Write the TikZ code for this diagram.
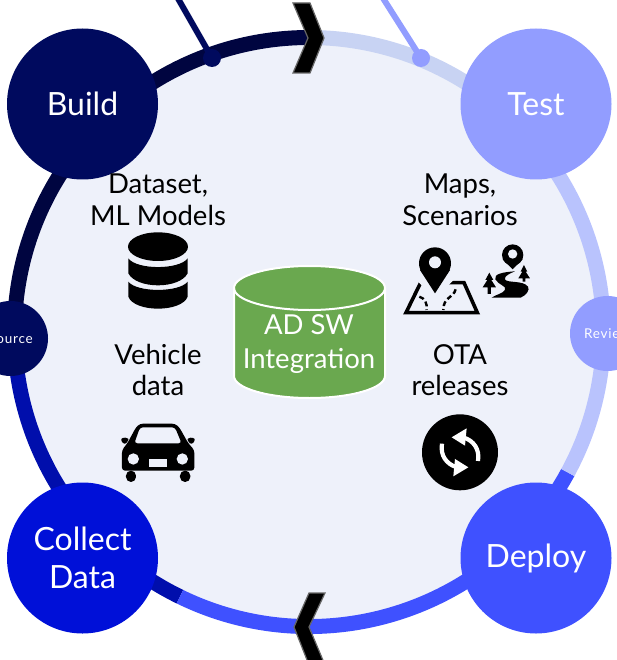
\documentclass[tikz,border=0pt]{standalone}
\usepackage{fontspec}
\setmainfont{Lato}
\usetikzlibrary{calc}
\definecolor{navy}{HTML}{000A5E}
\definecolor{navyring}{HTML}{000540}
\definecolor{bluec}{HTML}{0010D8}
\definecolor{bluering}{HTML}{000EAC}
\definecolor{bright}{HTML}{3F51FF}
\definecolor{peri}{HTML}{929DFF}
\definecolor{periring}{HTML}{B9C3FD}
\definecolor{pale}{HTML}{C8D3F3}
\definecolor{inner}{HTML}{EEF1FA}
\definecolor{cyl}{HTML}{6AA84F}
\tikzset{
  ring/.style={line width=15pt,line cap=butt},
  bigc/.style={circle,minimum size=151pt,inner sep=0pt,text=white,font=\fontsize{32}{38}\selectfont,align=center},
  smallc/.style={circle,minimum size=75pt,inner sep=0pt},
  smalltext/.style={text=white,font=\fontsize{13.5}{16}\selectfont\addfontfeatures{LetterSpace=6}},
  lab/.style={inner sep=0pt,font=\fontsize{27.5}{31.5}\selectfont,align=center,text=black},
  pin/.style={circle,minimum size=18pt,inner sep=0pt},
  chev/.style={fill=black,draw=gray!80!black,line width=1.2pt,line join=miter},
}
\begin{document}
\begin{tikzpicture}[x=1pt,y=-1pt]
\useasboundingbox (0,0) rectangle (617,660);
\clip (0,0) rectangle (617,660);
\coordinate (c) at (309,332);
% disc
\fill[inner] (c) circle[radius=295];
% ring segments
\def\R{294.5}
\draw[ring,navyring] ($(c)+(-90:\R)$) arc[start angle=-90,end angle=-188,radius=\R];
\draw[ring,bluering] ($(c)+(-188:\R)$) arc[start angle=-188,end angle=-244,radius=\R];
\draw[ring,bright] ($(c)+(-244:\R)$) arc[start angle=-244,end angle=-331.5,radius=\R];
\draw[ring,periring] ($(c)+(-331.5:\R)$) arc[start angle=-331.5,end angle=-412,radius=\R];
\draw[ring,pale] ($(c)+(-412:\R)$) arc[start angle=-412,end angle=-450,radius=\R];
% pins and their lines
\coordinate (navyend) at (176,-5);
\coordinate (periend) at (381,-5);
\node[pin,fill=navy] (pinb) at (212,58) {};
\node[pin,fill=peri] (pint) at (421,58) {};
\draw[navy,line width=6pt] (pinb.center) -- (navyend);
\draw[peri,line width=6pt] (pint.center) -- (periend);
% chevrons
\path[chev] (293,3) -- (310,3) -- (324,38) -- (310,73) -- (293,73) -- (308,38) -- cycle;
\path[chev] (309,593) -- (325,593) -- (309,627) -- (325,665) -- (309,665) -- (294,627) -- cycle;
% phase circles
\node[bigc,fill=navy] (build) at (82.5,104) {Build};
\node[bigc,fill=peri] (test) at (536,104) {Test};
\node[bigc,fill=bluec] (collect) at (82.5,558) {Collect\\Data};
\node[bigc,fill=bright] (deploy) at (536,558) {\raisebox{-2pt}{Deploy}};
\node[smallc,fill=navy] (source) at (10.5,338.5) {};
\node[smalltext] (sourcet) at (10.5,338.5) {Source};
\node[smallc,fill=peri] (review) at (607.5,333.5) {};
\node[smalltext] (reviewt) at (607.5,333.5) {Review};
% cylinder
\path[fill=cyl,draw=white,line width=2pt] (234,288) -- (234,376) arc[start angle=180,end angle=0,x radius=75.5,y radius=22] -- (385,288) arc[start angle=0,end angle=-180,x radius=75.5,y radius=22] -- cycle;
\draw[white,line width=2pt] (234,288) arc[start angle=180,end angle=0,x radius=75.5,y radius=22];
\node[lab,text=white,font=\fontsize{27.5}{34}\selectfont] (adsw) at (309,344.5) {AD SW\\Integration};
% labels
\node[lab] (lds) at (158,200) {Dataset,\\ML Models};
\node[lab] (lmaps) at (460,200) {Maps,\\Scenarios};
\node[lab] (lveh) at (158,370) {Vehicle\\data};
\node[lab] (lota) at (460,370) {OTA\\releases};
% database icon
\begin{scope}[shift={(100,170)},x=0.3333pt,y=-0.3333pt]
  \fill (174,230) ellipse[x radius=90,y radius=43];
  \fill (85,265) .. controls (110,300) and (238,300) .. (263,265) -- (263,310) .. controls (238,358) and (110,358) .. (85,310) -- cycle;
  \fill (85,335) .. controls (110,368) and (238,368) .. (263,335) -- (263,380) .. controls (245,428) and (103,428) .. (85,380) -- cycle;
\end{scope}
% car icon
\begin{scope}[shift={(0,280)},x=0.3333pt,y=-0.3333pt]
  \fill[even odd rule,rounded corners=3pt]
    (366,572) -- (366,510) -- (382,490) -- (408,442) -- (420,431) -- (525,431) -- (538,442) -- (565,490) -- (583,510) -- (583,572) -- cycle
    (403,490) -- (420,442) -- (525,442) -- (545,490) -- cycle;
  \fill[inner] (400,537) circle[radius=17] (547,537) circle[radius=17];
  \fill[inner] (448,536) rectangle (500,562);
  \fill[rounded corners=3pt] (360,475) -- (385,472) -- (385,485) -- (372,495) -- cycle;
  \fill[rounded corners=3pt] (588,475) -- (563,472) -- (563,485) -- (576,495) -- cycle;
  \fill[rounded corners=5pt] (378,572) rectangle (408,606);
  \fill[rounded corners=5pt] (540,572) rectangle (571,606);
\end{scope}
% map icon
\begin{scope}[shift={(390,230)},x=0.3333pt,y=-0.3333pt]
  \draw[line width=3.6pt,line join=miter] (48,248) -- (262,248) -- (222,158) -- (92,158) -- cycle;
  \fill[inner] (135,208) -- (70,140) -- (200,140) -- cycle;
  \fill (135,100) circle[radius=48];
  \fill (90,120) -- (135,190) -- (180,120) -- cycle;
  \fill[inner] (135,97) circle[radius=18];
  \draw[line width=2.4pt,dash pattern=on 5pt off 3pt] (88,200) .. controls (105,205) and (112,220) .. (110,240);
  \draw[line width=2.4pt,dash pattern=on 5pt off 3pt] (197,178) .. controls (190,205) and (160,200) .. (160,240);
  % second pin
  \fill (368,75) circle[radius=32];
  \fill (338,88) -- (368,118) -- (398,88) -- cycle;
  \fill[inner] (368,72) circle[radius=14];
  % trees
  \fill (298,128) -- (310,150) -- (304,150) -- (318,172) -- (303,172) -- (303,192) -- (293,192) -- (293,172) -- (278,172) -- (292,150) -- (286,150) -- cycle;
  \fill (402,105) -- (412,125) -- (407,125) -- (420,145) -- (406,145) -- (406,155) -- (398,155) -- (398,145) -- (385,145) -- (397,125) -- (392,125) -- cycle;
  % road
  \fill (375,124) .. controls (340,126) and (310,132) .. (316,148) .. controls (326,166) and (352,168) .. (345,180) .. controls (340,190) and (315,195) .. (305,203) -- (392,203) .. controls (410,195) and (420,180) .. (414,170) .. controls (400,150) and (350,160) .. (345,148) .. controls (342,138) and (360,130) .. (375,124) -- cycle;
\end{scope}
% reload icon
\begin{scope}[shift={(390,230)},x=0.3333pt,y=-0.3333pt]
  \fill (210,667) circle[radius=114];
  \foreach \a in {0,180} {
    \begin{scope}[shift={(210,667)},rotate=\a]
      \draw[white,line width=4.2pt] (54,26) .. controls (60,-10) and (40,-35) .. (12,-44);
      \fill[white] (-25,-45) -- (20,-72) -- (15,-20) -- cycle;
    \end{scope}
  }
\end{scope}
\end{tikzpicture}
\end{document}
